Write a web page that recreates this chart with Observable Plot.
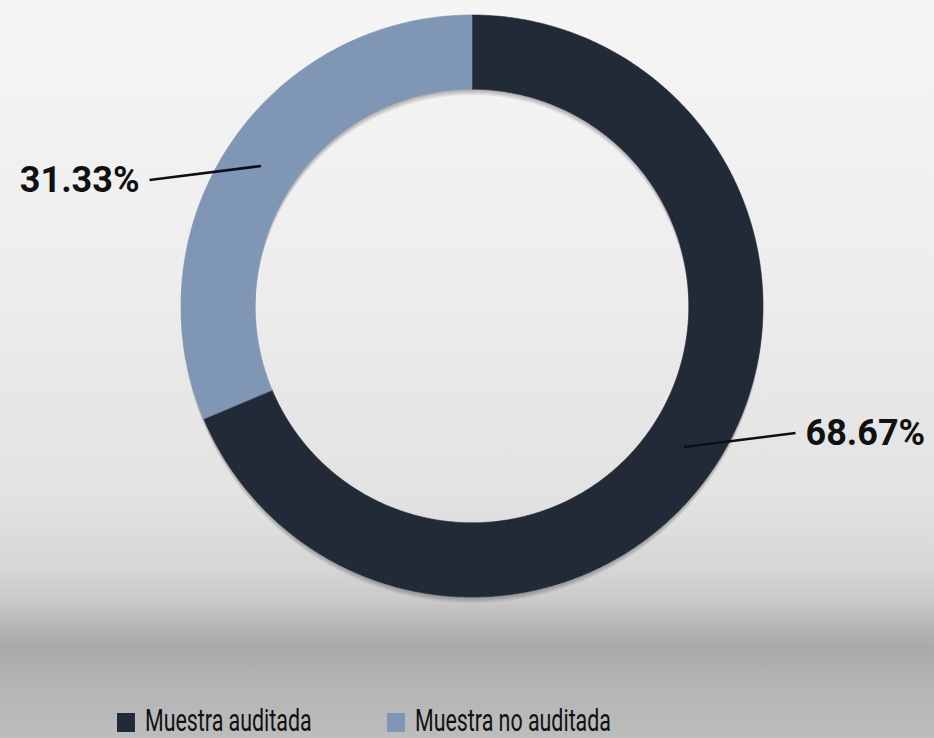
<!DOCTYPE html>
<html>
<head>
<meta charset="utf-8">
<script src="https://cdn.jsdelivr.net/npm/d3@7"></script>
<script src="https://cdn.jsdelivr.net/npm/@observablehq/plot@0.6"></script>
<style>
  html, body { margin: 0; padding: 0; }
  #wrap {
    position: relative; width: 934px; height: 738px; overflow: hidden;
    background: linear-gradient(to bottom, #f5f5f5 0%, #eeeeee 35%, #e2e2e2 68%, #d6d6d6 77%, #cbcbcb 81%, #b5b5b5 85%, #a9a9a9 88%, #b3b3b3 92%, #bdbdbd 100%);
    font-family: Roboto, "Noto Sans", sans-serif;
  }
  #chart svg { display: block; background: transparent; }
  .leg { position: absolute; top: 705px; height: 32px; color: #111; }
  .sw { position: absolute; top: 8px; left: 0; width: 18px; height: 19px; }
  .lt { position: absolute; left: 28px; top: 0px; font-size: 31px; line-height: 32px; white-space: nowrap; transform: scaleX(0.69); transform-origin: left center; }
</style>
</head>
<body>
<div id="wrap">
  <div id="chart"></div>
  <div id="legend"></div>
</div>
<script>
const categories = ["Muestra auditada", "Muestra no auditada"];
const values = [68.67, 31.33];
const labels = ["68.67%", "31.33%"];
const colors = ["#222a37", "#7f96b4"];

const total = d3.sum(values);
const innerR = 0.745;
let acc = 0;
const slices = categories.map((c, i) => {
  const a0 = acc / total * 2 * Math.PI;
  acc += values[i];
  const a1 = acc / total * 2 * Math.PI;
  return {category: c, value: values[i], label: labels[i], color: colors[i], a0, a1};
});

// one row per angle step: outer point (x1,y1) and inner point (x2,y2)
const ringRows = [];
slices.forEach(s => {
  const n = Math.max(2, Math.ceil((s.a1 - s.a0) / (Math.PI / 360)));
  for (let k = 0; k <= n; k++) {
    const a = s.a0 + (s.a1 - s.a0) * k / n;
    ringRows.push({
      category: s.category,
      x1: Math.sin(a), y1: Math.cos(a),
      x2: innerR * Math.sin(a), y2: innerR * Math.cos(a)
    });
  }
});

const midR = (1 + innerR) / 2;
const leaders = slices.map(s => {
  const am = (s.a0 + s.a1) / 2;
  const mx = midR * Math.sin(am), my = midR * Math.cos(am);
  const side = mx >= 0 ? 1 : -1;
  return {x1: mx, y1: my, x2: side * 1.11, y2: my * 0.9, side, label: s.label};
});

// soft shadow approximated by a few offset, translucent copies of the ring
const shadowOffsets = [1, 2, 3, 4, 5, 6];

const cx = 472, cy = 306, R = 291;
const plot = Plot.plot({
  width: 934,
  height: 690,
  margin: 0,
  x: {domain: [-1, 1], range: [cx - R, cx + R], axis: null},
  y: {domain: [-1, 1], range: [cy + R, cy - R], axis: null},
  color: {domain: categories, range: colors},
  style: {background: "transparent", fontFamily: "Roboto, sans-serif"},
  marks: [
    ...shadowOffsets.map(o => Plot.area(ringRows, {x1: "x1", y1: "y1", x2: "x2", y2: "y2", z: "category", fill: "#000", fillOpacity: 0.05, dy: o})),
    Plot.area(ringRows, {x1: "x1", y1: "y1", x2: "x2", y2: "y2", z: "category", fill: "category", stroke: "category", strokeWidth: 0.6}),
    Plot.link(leaders, {x1: "x1", y1: "y1", x2: "x2", y2: "y2", stroke: "#0b0f18", strokeWidth: 2.6}),
    Plot.text(leaders.filter(d => d.side > 0), {x: "x2", y: "y2", text: "label", textAnchor: "start", dx: 10, fontSize: 36, fontWeight: "bold", fill: "#111"}),
    Plot.text(leaders.filter(d => d.side < 0), {x: "x2", y: "y2", text: "label", textAnchor: "end", dx: -10, fontSize: 36, fontWeight: "bold", fill: "#111"})
  ]
});
document.getElementById("chart").appendChild(plot);

const legend = document.getElementById("legend");
const legLeft = [117, 387];
categories.forEach((c, i) => {
  const item = document.createElement("div");
  item.className = "leg";
  item.style.left = legLeft[i] + "px";
  const sw = document.createElement("div");
  sw.className = "sw";
  sw.style.background = colors[i];
  const t = document.createElement("div");
  t.className = "lt";
  t.textContent = c;
  item.appendChild(sw);
  item.appendChild(t);
  legend.appendChild(item);
});
</script>
</body>
</html>
